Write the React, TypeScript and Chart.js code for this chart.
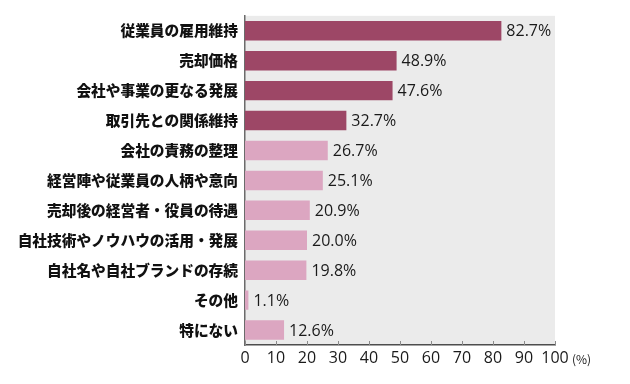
import React, { useEffect, useRef } from "react";
import { Chart, registerables } from "chart.js";

Chart.register(...registerables);

const categories = [
  "従業員の雇用維持",
  "売却価格",
  "会社や事業の更なる発展",
  "取引先との関係維持",
  "会社の責務の整理",
  "経営陣や従業員の人柄や意向",
  "売却後の経営者・役員の待遇",
  "自社技術やノウハウの活用・発展",
  "自社名や自社ブランドの存続",
  "その他",
  "特にない",
];
const values = [82.7, 48.9, 47.6, 32.7, 26.7, 25.1, 20.9, 20.0, 19.8, 1.1, 12.6];
const highlightCount = 4;
const xTicks = [0, 10, 20, 30, 40, 50, 60, 70, 80, 90, 100];
const unitLabel = "(%)";

const DARK = "#9d4766";
const LIGHT = "#dca6c1";
const NUM_FONT = '"Open Sans", "Roboto", sans-serif';
const JP_FONT = '"Noto Sans CJK JP", sans-serif';

export default function App() {
  const ref = useRef<HTMLCanvasElement | null>(null);

  useEffect(() => {
    document.body.style.margin = "0";
    const canvas = ref.current;
    if (!canvas) return;

    const bgPlugin = {
      id: "plotBg",
      beforeDraw(chart: any) {
        const { ctx, chartArea } = chart;
        ctx.save();
        ctx.fillStyle = "#ebebeb";
        ctx.fillRect(chartArea.left, chartArea.top, chartArea.right - chartArea.left, chartArea.bottom - chartArea.top);
        ctx.restore();
      },
    };

    const extrasPlugin = {
      id: "extras",
      afterDraw(chart: any) {
        const { ctx, chartArea } = chart;
        const xs = chart.scales.x;
        ctx.save();
        ctx.strokeStyle = "#8a8a8a";
        ctx.lineWidth = 1;
        xTicks.forEach((v) => {
          const px = Math.round(xs.getPixelForValue(v)) + 0.5;
          ctx.beginPath();
          ctx.moveTo(px, chartArea.bottom);
          ctx.lineTo(px, chartArea.bottom - 4);
          ctx.stroke();
        });
        const meta = chart.getDatasetMeta(0);
        ctx.fillStyle = "#1a1a1a";
        ctx.font = `16px ${NUM_FONT}`;
        ctx.textAlign = "left";
        ctx.textBaseline = "middle";
        meta.data.forEach((bar: any, i: number) => {
          ctx.fillText(values[i].toFixed(1) + "%", bar.x + 5, bar.y + 1);
        });
        ctx.font = `12px ${JP_FONT}`;
        ctx.fillStyle = "#1a1a1a";
        ctx.textBaseline = "middle";
        ctx.fillText(unitLabel, chartArea.right + 17, chartArea.bottom + 14);
        ctx.restore();
      },
    };

    const chart = new Chart(canvas, {
      type: "bar",
      data: {
        labels: categories,
        datasets: [
          {
            data: values,
            backgroundColor: values.map((_, i) => (i < highlightCount ? DARK : LIGHT)),
            borderWidth: 0,
            barPercentage: 0.65,
            categoryPercentage: 1,
          },
        ],
      },
      options: {
        indexAxis: "y",
        responsive: false,
        animation: false,
        layout: { padding: { left: 0, right: 75, top: 5.5, bottom: 0 } },
        plugins: {
          legend: { display: false },
          tooltip: { enabled: false },
        },
        scales: {
          x: {
            type: "linear",
            min: 0,
            max: 100,
            afterBuildTicks: (s: any) => {
              s.ticks = xTicks.map((v) => ({ value: v }));
            },
            afterFit: (s: any) => {
              s.height = 39;
            },
            grid: { display: false, drawTicks: false },
            border: { display: true, color: "#4d4d4d", width: 1.5 },
            ticks: {
              autoSkip: false,
              padding: 4,
              color: "#1a1a1a",
              font: { family: NUM_FONT, size: 16 },
              maxRotation: 0,
            },
          },
          y: {
            type: "category",
            afterFit: (s: any) => {
              s.width = 245;
            },
            grid: { display: false, drawTicks: false },
            border: { display: true, color: "#6b6b6b", width: 1.5 },
            ticks: {
              padding: 7,
              color: "#111111",
              font: { family: JP_FONT, size: 14.7, weight: "900" },
            },
          },
        },
      },
      plugins: [bgPlugin, extrasPlugin],
    } as any);

    return () => chart.destroy();
  }, []);

  return (
    <div style={{ position: "absolute", left: 0, top: 0, width: 630, height: 384, background: "#fff" }}>
      <canvas ref={ref} width={630} height={384} style={{ display: "block" }} />
    </div>
  );
}
